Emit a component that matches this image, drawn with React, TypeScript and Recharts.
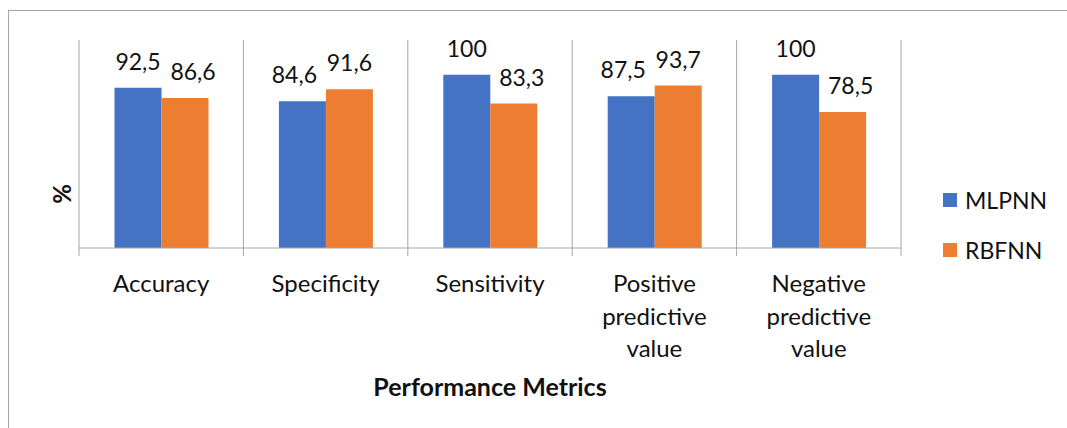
import React from 'react';
import { BarChart, Bar, XAxis, YAxis, CartesianGrid, Legend, LabelList, Label } from 'recharts';

const categories = [
  'Accuracy',
  'Specificity',
  'Sensitivity',
  'Positive predictive value',
  'Negative predictive value',
];
const mlpnn = [92.5, 84.6, 100, 87.5, 100];
const rbfnn = [86.6, 91.6, 83.3, 93.7, 78.5];
const seriesNames = ['MLPNN', 'RBFNN'];
const seriesValues = [mlpnn, rbfnn];
const seriesColors = ['#4472C4', '#ED7D31'];
const yDomain = [0, 120];

const data = categories.map((name, i) => ({ name, MLPNN: mlpnn[i], RBFNN: rbfnn[i] }));

const W = 1067;
const H = 428;
const margin = { top: 40, right: 166, left: 9, bottom: 30 };
const yAxisWidth = 70;
const xAxisHeight = 150;
const font = 'Lato, "Open Sans", sans-serif';
const textColor = '#111';
const lineColor = '#a6a6a6';
const labelOffset = 18;
const labelNudge = 8;

const fmt = (v: number) => String(v).replace('.', ',');

function CategoryTick(props: any) {
  const { x, y, payload, index } = props;
  const band = (W - margin.left - yAxisWidth - margin.right) / categories.length;
  const words = String(payload.value).split(' ');
  return (
    <g>
      <line x1={x - band / 2} x2={x - band / 2} y1={y - 10} y2={y - 2} stroke={lineColor} />
      {index === categories.length - 1 && (
        <line x1={x + band / 2} x2={x + band / 2} y1={y - 10} y2={y - 2} stroke={lineColor} />
      )}
      <text x={x} y={y} textAnchor="middle" fontSize={24} fill={textColor} fontFamily={font}>
        {words.map((w, i) => (
          <tspan key={i} x={x} dy={i === 0 ? 34 : 32.7}>
            {w}
          </tspan>
        ))}
      </text>
    </g>
  );
}

// value labels: the lower bar of a pair gets its label pushed outward, like Excel does
function makeValueLabel(series: number) {
  return (props: any) => {
    const { x, y, width, index, value } = props;
    const own = seriesValues[series][index];
    const other = seriesValues[1 - series][index];
    const dir = series === 0 ? -1 : 1;
    const dx = own < other ? dir * labelNudge : 0;
    return (
      <text
        x={x + width / 2 + dx}
        y={y - labelOffset}
        textAnchor="middle"
        fontSize={23}
        fill={textColor}
        fontFamily={font}
      >
        {fmt(value)}
      </text>
    );
  };
}

function LegendContent() {
  return (
    <div style={{ fontFamily: font, fontSize: 23, color: textColor }}>
      {seriesNames.map((n, i) => (
        <div key={n} style={{ height: 50, display: 'flex', alignItems: 'center' }}>
          <span style={{ width: 14, height: 14, background: seriesColors[i], marginRight: 8 }} />
          <span>{n}</span>
        </div>
      ))}
    </div>
  );
}

export default function App() {
  return (
    <div style={{ position: 'absolute', left: 0, top: 0, width: W, height: H, overflow: 'hidden', background: '#fff' }}>
      <div
        style={{
          position: 'absolute',
          left: 8,
          top: 10,
          width: 1200,
          height: 600,
          border: `1px solid ${lineColor}`,
        }}
      />
      <div style={{ position: 'absolute', left: 0, top: 0 }}>
        <BarChart width={W} height={H} data={data} margin={margin} barCategoryGap="21.6%" barGap={0}>
          <CartesianGrid
            horizontal={false}
            stroke={lineColor}
            verticalCoordinatesGenerator={({ offset }: any) =>
              Array.from(
                { length: categories.length + 1 },
                (_, i) => offset.left + (i * offset.width) / categories.length
              )
            }
          />
          <XAxis
            dataKey="name"
            height={xAxisHeight}
            interval={0}
            tickSize={8}
            tickMargin={2}
            tickLine={false}
            axisLine={{ stroke: lineColor }}
            tick={<CategoryTick />}
          >
            <Label
              value="Performance Metrics"
              position="insideBottom"
              offset={2}
              fontSize={25}
              fontWeight="bold"
              fill={textColor}
              fontFamily={font}
            />
          </XAxis>
          <YAxis domain={yDomain} width={yAxisWidth} tick={false} axisLine={false} tickLine={false}>
            <Label
              content={({ viewBox }: any) => {
                const cx = viewBox.x + 53;
                const cy = viewBox.y + viewBox.height * 0.74;
                return (
                  <text
                    x={cx}
                    y={cy}
                    transform={`rotate(-90, ${cx}, ${cy})`}
                    textAnchor="middle"
                    dominantBaseline="central"
                    fontSize={24}
                    fontWeight="bold"
                    fill={textColor}
                    fontFamily={font}
                  >
                    %
                  </text>
                );
              }}
            />
          </YAxis>
          <Legend
            layout="vertical"
            verticalAlign="middle"
            align="center"
            wrapperStyle={{ position: 'absolute', left: 943, top: 175, width: 120 }}
            content={<LegendContent />}
          />
          {seriesNames.map((n, i) => (
            <Bar key={n} dataKey={n} fill={seriesColors[i]} isAnimationActive={false}>
              <LabelList dataKey={n} content={makeValueLabel(i)} />
            </Bar>
          ))}
        </BarChart>
      </div>
    </div>
  );
}
